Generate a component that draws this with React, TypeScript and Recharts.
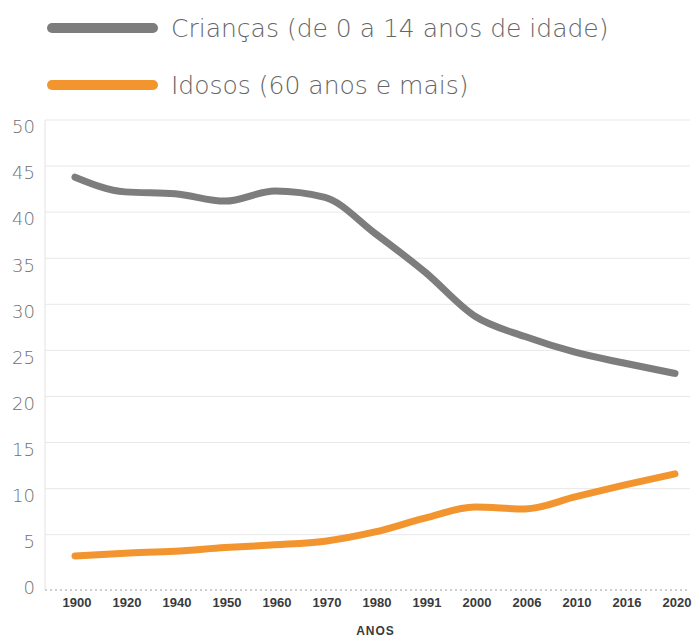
import { CartesianGrid, Line, LineChart, XAxis, YAxis } from "recharts";

const years = ["1900", "1920", "1940", "1950", "1960", "1970", "1980", "1991", "2000", "2006", "2010", "2016", "2020"];
const criancas = [43.8, 42.2, 42.0, 41.2, 42.3, 41.6, 37.7, 33.5, 28.7, 26.5, 24.8, 23.6, 22.5];
const idosos = [2.7, 3.0, 3.2, 3.6, 3.9, 4.3, 5.3, 6.8, 8.0, 7.8, 9.1, 10.4, 11.6];
const yTicks = [0, 5, 10, 15, 20, 25, 30, 35, 40, 45, 50];
const gridValues = [5, 10, 15, 20, 25, 30, 35, 40, 45, 50];
const seriesNames = ["Crianças (de 0 a 14 anos de idade)", "Idosos (60 anos e mais)"];
const seriesKeys = ["criancas", "idosos"];
const COLORS = ["#7d7d7d", "#f2952f"];

const data = years.map((year, i) => ({ year, criancas: criancas[i], idosos: idosos[i] }));

const YTick = (props: any) => {
    const { x, y, payload } = props;
    return (
        <text x={x} y={y + 7} dy="0.35em" textAnchor="end" fontSize={18} fill="#6f6f6f" fontFamily="DejaVu Sans" fontWeight={300}>
            {payload.value}
        </text>
    );
};

const XTick = (props: any) => {
    const { x, y, payload } = props;
    return (
        <text x={x + 2} y={y} dy="0.71em" textAnchor="middle" fontSize={13} fill="#3a3a3a" fontFamily="Liberation Sans" fontWeight="bold">
            {payload.value}
        </text>
    );
};

export default function App() {
    return (
        <div style={{ position: "absolute", left: 0, top: 0, width: 698, height: 643, background: "#fff" }}>
            {/* legend drawn by hand so it doesn't push the plot down */}
            {seriesNames.map((name, index) => (
                <div key={index} style={{ position: "absolute", left: 0, top: 13 + index * 57, height: 30, display: "flex", alignItems: "center" }}>
                    <div style={{ marginLeft: 47, width: 111, height: 10, borderRadius: 5, backgroundColor: COLORS[index] }}></div>
                    <div style={{ marginLeft: 13, fontFamily: "DejaVu Sans", fontWeight: 300, fontSize: 25, color: "#666", whiteSpace: "nowrap" }}>{name}</div>
                </div>
            ))}
            <LineChart width={698} height={643} data={data} margin={{ top: 120, right: 8, left: 10, bottom: 8 }}>
                <CartesianGrid vertical={false} stroke="#e8e8e8" horizontalValues={gridValues} />
                <XAxis
                    dataKey="year"
                    padding={{ left: 30, right: 15 }}
                    height={45}
                    axisLine={{ stroke: "#9a9a9a", strokeDasharray: "2 3" }}
                    tickLine={false}
                    tickSize={0}
                    tickMargin={8}
                    interval={0}
                    tick={<XTick />}
                    label={{ value: "ANOS", position: "insideBottom", offset: 0, dx: 8, style: { fontSize: 12, fontWeight: "bold", fill: "#3a3a3a", fontFamily: "Liberation Sans", letterSpacing: 1 } }}
                />
                <YAxis
                    width={35}
                    domain={[-1, 50]}
                    ticks={yTicks}
                    axisLine={{ stroke: "#e2e2e2" }}
                    tickLine={false}
                    tickSize={0}
                    tickMargin={10}
                    interval={0}
                    tick={<YTick />}
                />
                {seriesKeys.map((key, index) => (
                    <Line
                        key={key}
                        type="monotone"
                        dataKey={key}
                        name={seriesNames[index]}
                        stroke={COLORS[index]}
                        strokeWidth={7}
                        strokeLinecap="round"
                        dot={false}
                        isAnimationActive={false}
                    />
                ))}
            </LineChart>
        </div>
    );
}
